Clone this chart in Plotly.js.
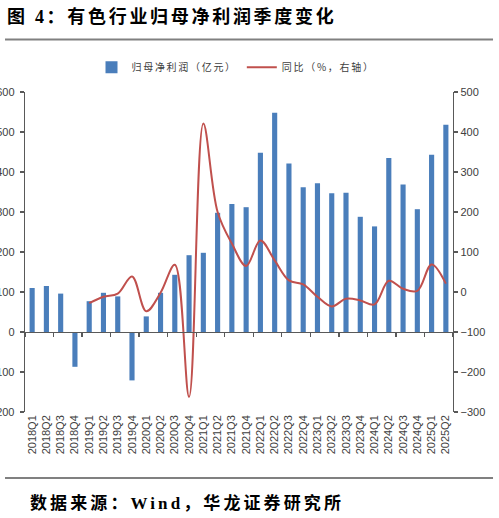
<!DOCTYPE html>
<html>
<head>
<meta charset="utf-8">
<script src="https://cdn.plot.ly/plotly-3.0.1.min.js"></script>
<style>
html,body{margin:0;padding:0;background:#fff;overflow:hidden;}
#chart{width:499px;height:518px;}
.gtitle{letter-spacing:2.7px;}
.annotation-text{letter-spacing:3.1px;}
.legendtext{letter-spacing:1.7px;}
</style>
</head>
<body>
<div id="chart"></div>
<script>
// Quarters
var quarters = ["2018Q1","2018Q2","2018Q3","2018Q4","2019Q1","2019Q2","2019Q3","2019Q4",
  "2020Q1","2020Q2","2020Q3","2020Q4","2021Q1","2021Q2","2021Q3","2021Q4",
  "2022Q1","2022Q2","2022Q3","2022Q4","2023Q1","2023Q2","2023Q3","2023Q4",
  "2024Q1","2024Q2","2024Q3","2024Q4","2025Q1","2025Q2"];
// 归母净利润（亿元）
var netProfit = [110,115,96,-87,77,98,89,-121,
  39,98,143,192,198,298,320,312,
  448,548,421,362,372,347,348,288,
  264,435,369,307,443,518];
// 同比（%，右轴）
var yoy = [null,null,null,null,-28,-12,-4,39,
  -48,-2,68,-262,421,200,121,65,
  129,79,29,19,-12,-36,-17,-21,
  -31,28,8,3,69,21];
var leftTicks = [-200,-100,0,100,200,300,400,500,600];
var rightTicks = [-300,-200,-100,0,100,200,300,400,500];

var axisColor = '#595959';
var textColor = '#404040';

var traces = [
  {
    type: 'bar', x: quarters, y: netProfit, name: '归母净利润（亿元）',
    marker: {color: '#4a7ebb'}, xaxis: 'x', yaxis: 'y', hoverinfo: 'x+y'
  },
  {
    type: 'scatter', mode: 'lines', x: quarters, y: yoy, name: '同比（%，右轴）',
    line: {color: '#c0504d', width: 2, shape: 'spline', smoothing: 1},
    xaxis: 'x', yaxis: 'y2', connectgaps: false
  },
  {
    // carries the category axis drawn along the zero line
    type: 'scatter', mode: 'none', x: quarters, y: netProfit,
    xaxis: 'x2', yaxis: 'y', showlegend: false, hoverinfo: 'skip'
  }
];

var layout = {
  width: 499, height: 518,
  margin: {l: 25, r: 46, t: 92, b: 106, pad: 0},
  paper_bgcolor: '#fff', plot_bgcolor: '#fff',
  font: {family: 'Arial, "Liberation Sans", "Noto Sans CJK SC", sans-serif', size: 11, color: textColor},
  title: {
    text: '图 4：有色行业归母净利润季度变化',
    x: 0.014, xanchor: 'left', xref: 'container',
    y: 0.968, yanchor: 'middle', yref: 'container',
    font: {family: '"Liberation Serif", "Noto Sans CJK SC", serif', size: 18, weight: 'bold', color: '#000'}
  },
  bargap: 0.64,
  showlegend: true,
  legend: {
    orientation: 'h', x: 0.493, xanchor: 'center', y: 1.077, yanchor: 'middle',
    font: {family: '"Noto Sans CJK SC", sans-serif', size: 10, color: textColor},
    bgcolor: 'rgba(0,0,0,0)'
  },
  xaxis: {
    type: 'category', range: [-0.5, 29.5], anchor: 'y',
    showline: false, ticks: '', showgrid: false, zeroline: false,
    tickangle: -90, tickfont: {size: 11, color: textColor},
    fixedrange: true
  },
  xaxis2: {
    type: 'category', range: [-0.5, 29.5], overlaying: 'x', anchor: 'free', position: 0.25,
    showline: true, linecolor: axisColor, linewidth: 1.3,
    ticks: 'outside', tickson: 'boundaries', ticklen: 4, tickcolor: axisColor, tickwidth: 1.3,
    showticklabels: false, showgrid: false, zeroline: false, fixedrange: true
  },
  yaxis: {
    range: [-200, 600], tickvals: leftTicks, ticktext: leftTicks.map(String),
    showline: true, linecolor: axisColor, linewidth: 1.3,
    ticks: 'outside', ticklen: 4, tickcolor: axisColor, tickwidth: 1.3,
    ticklabelstandoff: 3,
    showgrid: false, zeroline: false, tickfont: {size: 11, color: textColor},
    fixedrange: true
  },
  yaxis2: {
    range: [-300, 500], tickvals: rightTicks, ticktext: rightTicks.map(function(v){return v < 0 ? '\u2212' + Math.abs(v) : String(v);}),
    overlaying: 'y', side: 'right', anchor: 'x',
    showline: true, linecolor: axisColor, linewidth: 1.3,
    ticks: 'outside', ticklen: 4, tickcolor: axisColor, tickwidth: 1.3,
    showgrid: false, zeroline: false, tickfont: {size: 11, color: textColor},
    fixedrange: true
  },
  shapes: [
    {type: 'line', xref: 'paper', yref: 'paper', x0: -0.0467, x1: 1.0935, y0: 1.164, y1: 1.164,
     line: {color: '#808080', width: 2}},
    {type: 'line', xref: 'paper', yref: 'paper', x0: -0.0467, x1: 1.0935, y0: -0.206, y1: -0.206,
     line: {color: '#808080', width: 2}}
  ],
  annotations: [
    {text: '数据来源：Wind，华龙证券研究所', xref: 'paper', yref: 'paper',
     x: 0.007, xanchor: 'left', y: -0.284, yanchor: 'middle', showarrow: false,
     font: {family: '"Liberation Serif", "Noto Sans CJK SC", serif', size: 17, weight: 'bold', color: '#000'}}
  ]
};

Plotly.newPlot('chart', traces, layout, {displayModeBar: false, staticPlot: true});
</script>
</body>
</html>
